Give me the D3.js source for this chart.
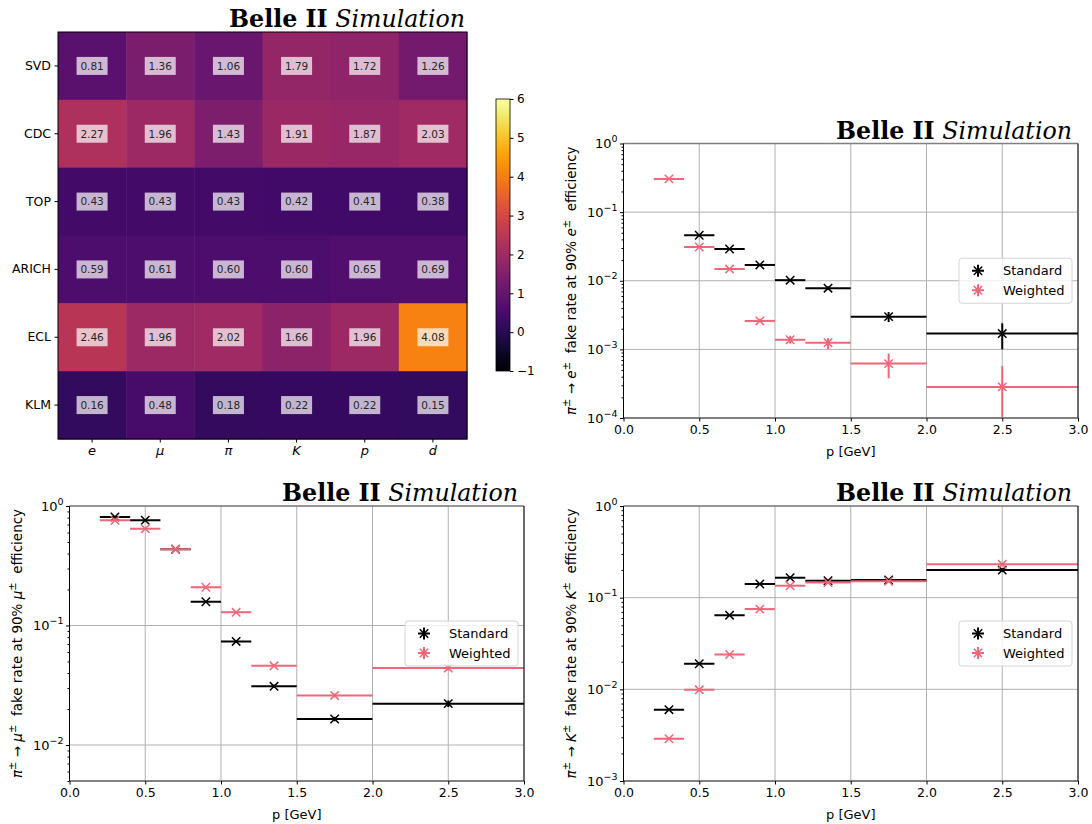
<!DOCTYPE html>
<html>
<head>
<meta charset="utf-8">
<script src="https://cdn.jsdelivr.net/npm/d3@7"></script>
<style>
  body { margin: 0; background: #fff; }
  svg { display: block; font-family: "DejaVu Sans", sans-serif; }
  text { white-space: pre; }
</style>
</head>
<body>
<svg id="fig" width="1092" height="824"></svg>
<script>
// ---- heatmap data ----
const heat_rows = ['SVD', 'CDC', 'TOP', 'ARICH', 'ECL', 'KLM'];
const heat_cols = ['e', 'μ', 'π', 'K', 'p', 'd'];
const heat_values = [
    [0.81, 1.36, 1.06, 1.79, 1.72, 1.26],
    [2.27, 1.96, 1.43, 1.91, 1.87, 2.03],
    [0.43, 0.43, 0.43, 0.42, 0.41, 0.38],
    [0.59, 0.61, 0.60, 0.60, 0.65, 0.69],
    [2.46, 1.96, 2.02, 1.66, 1.96, 4.08],
    [0.16, 0.48, 0.18, 0.22, 0.22, 0.15]
];
const colorbar_ticks = [-1, 0, 1, 2, 3, 4, 5, 6];

// ---- momentum bins ----
const bin_lo = [0.2, 0.4, 0.6, 0.8, 1.0, 1.2, 1.5, 2.0];
const bin_hi = [0.4, 0.6, 0.8, 1.0, 1.2, 1.5, 2.0, 3.0];
const bin_center = [0.3, 0.5, 0.7, 0.9, 1.1, 1.35, 1.75, 2.5];
const x_ticks = [0, 0.5, 1.0, 1.5, 2.0, 2.5, 3.0];

// pi -> e
const e_standard    = [null, 0.046, 0.029, 0.017, 0.0102, 0.0078, 0.0030, 0.0017];
const e_standard_lo = [null, 0.044, 0.028, 0.0164, 0.0098, 0.0073, 0.0025, 0.0010];
const e_standard_hi = [null, 0.048, 0.030, 0.0176, 0.0106, 0.0083, 0.0035, 0.0024];
const e_weighted    = [0.305, 0.031, 0.0148, 0.0026, 0.00138, 0.00125, 0.00062, 0.000284];
const e_weighted_lo = [0.300, 0.030, 0.0143, 0.0025, 0.00121, 0.00100, 0.00038, 0.00001];
const e_weighted_hi = [0.310, 0.032, 0.0153, 0.0028, 0.00158, 0.00146, 0.00087, 0.00057];

// pi -> mu
const mu_standard    = [0.81, 0.76, 0.435, 0.158, 0.0736, 0.031, 0.0165, 0.0222];
const mu_standard_lo = [0.80, 0.75, 0.430, 0.155, 0.0720, 0.030, 0.0158, 0.0208];
const mu_standard_hi = [0.82, 0.77, 0.440, 0.161, 0.0752, 0.032, 0.0172, 0.0236];
const mu_weighted    = [0.76, 0.645, 0.435, 0.209, 0.129, 0.046, 0.026, 0.044];
const mu_weighted_lo = [0.75, 0.635, 0.430, 0.205, 0.126, 0.0448, 0.0250, 0.0420];
const mu_weighted_hi = [0.77, 0.655, 0.440, 0.213, 0.132, 0.0472, 0.0270, 0.0460];

// pi -> K
const k_standard    = [0.0060, 0.019, 0.0644, 0.141, 0.165, 0.153, 0.156, 0.200];
const k_standard_lo = [0.0058, 0.0185, 0.063, 0.138, 0.160, 0.149, 0.151, 0.190];
const k_standard_hi = [0.0062, 0.0195, 0.066, 0.144, 0.170, 0.157, 0.161, 0.210];
const k_weighted    = [0.00289, 0.00987, 0.024, 0.075, 0.135, 0.146, 0.151, 0.231];
const k_weighted_lo = [0.00280, 0.0096, 0.0235, 0.073, 0.131, 0.142, 0.146, 0.222];
const k_weighted_hi = [0.00298, 0.0101, 0.0245, 0.077, 0.139, 0.150, 0.156, 0.240];

const col_standard = '#000000';
const col_weighted = '#ee6677';

const svg = d3.select('#fig');

function belle_title(right, baseline){
    let t = svg.append('text')
        .attr('x', right).attr('y', baseline)
        .attr('text-anchor', 'end')
        .style('font-family', '"DejaVu Serif", serif')
        .style('font-size', '20px')
        .attr('fill', '#000');
    t.append('tspan').attr('font-weight', 'bold').text('Belle II');
    t.append('tspan').attr('font-style', 'italic').text(' Simulation');
    let len = t.node().getComputedTextLength();
    t.style('font-size', (20 * 236 / len) + 'px');
}

// ---------------- heatmap ----------------
function heatmap(){
    let hx = d3.scaleBand().domain(heat_cols).range([58, 467]);
    let hy = d3.scaleBand().domain(heat_rows).range([32, 439]);
    let cscale = d3.scaleSequential(d3.interpolateInferno).domain([-1, 6]);

    let cells = [];
    heat_values.forEach((row, i) => row.forEach((v, j) => cells.push({r: heat_rows[i], c: heat_cols[j], v: v})));

    let g = svg.append('g');
    g.selectAll('rect.cell').data(cells).enter().append('rect')
        .attr('class', 'cell')
        .attr('x', d => hx(d.c)).attr('y', d => hy(d.r))
        .attr('width', hx.bandwidth() + 0.5).attr('height', hy.bandwidth() + 0.5)
        .attr('fill', d => cscale(d.v));

    let lab = g.selectAll('g.lab').data(cells).enter().append('g')
        .attr('class', 'lab')
        .attr('transform', d => `translate(${hx(d.c) + hx.bandwidth() / 2},${hy(d.r) + hy.bandwidth() / 2})`);
    lab.append('rect')
        .attr('x', -15.5).attr('y', -9).attr('width', 31).attr('height', 18)
        .attr('fill', '#fff').attr('fill-opacity', 0.7);
    lab.append('text')
        .attr('text-anchor', 'middle').attr('dy', '0.36em')
        .style('font-size', '10.5px').attr('fill', '#262626')
        .text(d => d.v.toFixed(2));

    g.append('rect').attr('x', 58).attr('y', 32).attr('width', 409).attr('height', 407)
        .attr('fill', 'none').attr('stroke', '#000').attr('stroke-width', 1);

    // row labels
    let ya = g.append('g').attr('transform', 'translate(58,0)')
        .call(d3.axisLeft(hy).tickSize(3.5).tickPadding(3.5));
    ya.select('.domain').remove();
    ya.selectAll('text').style('font-size', '12.5px').style('font-family', '"DejaVu Sans", sans-serif').attr('fill', '#000');

    let xa = g.append('g').attr('transform', 'translate(0,439)')
        .call(d3.axisBottom(hx).tickSize(3.5).tickPadding(3.5));
    xa.select('.domain').remove();
    xa.selectAll('text').style('font-size', '13px').style('font-style', 'italic')
        .style('font-family', '"DejaVu Sans", sans-serif').attr('fill', '#000');

    // colorbar
    let cy = d3.scaleLinear().domain([-1, 6]).range([371, 99]);
    let grad = svg.append('defs').append('linearGradient')
        .attr('id', 'cbar').attr('x1', 0).attr('y1', 1).attr('x2', 0).attr('y2', 0);
    d3.range(0, 1.0001, 0.05).forEach(t => {
        grad.append('stop').attr('offset', t).attr('stop-color', d3.interpolateInferno(t));
    });
    g.append('rect').attr('x', 496).attr('y', 99).attr('width', 14).attr('height', 272)
        .attr('fill', 'url(#cbar)').attr('stroke', '#000').attr('stroke-width', 0.8);
    let ca = g.append('g').attr('transform', 'translate(510,0)')
        .call(d3.axisRight(cy).tickValues(colorbar_ticks).tickSize(3.5).tickPadding(3.5)
            .tickFormat(d => d < 0 ? '−' + Math.abs(d) : '' + d));
    ca.select('.domain').remove();
    ca.selectAll('text').style('font-size', '12px').style('font-family', '"DejaVu Sans", sans-serif').attr('fill', '#000');

    belle_title(465, 27);
}

// ---------------- fake rate plots ----------------
function fake_rate_plot(opt){
    let x = d3.scaleLinear().domain([0, 3]).range([opt.left, opt.right]);
    let y = d3.scaleLog().domain(opt.ydomain).range([opt.bottom, opt.top]);
    let g = svg.append('g');
    let clip_id = 'clip_' + opt.name;

    g.append('clipPath').attr('id', clip_id).append('rect')
        .attr('x', opt.left).attr('y', opt.top)
        .attr('width', opt.right - opt.left).attr('height', opt.bottom - opt.top);

    // grid
    let grid = g.append('g').attr('stroke', '#b0b0b0').attr('stroke-width', 1);
    grid.selectAll('line.gx').data(x_ticks).enter().append('line')
        .attr('x1', d => x(d)).attr('x2', d => x(d)).attr('y1', opt.top).attr('y2', opt.bottom);
    grid.selectAll('line.gy').data(opt.yticks).enter().append('line')
        .attr('y1', d => y(d)).attr('y2', d => y(d)).attr('x1', opt.left).attr('x2', opt.right);

    // series
    let plot = g.append('g').attr('clip-path', `url(#${clip_id})`);
    opt.series.forEach(s => {
        let pts = [];
        s.values.forEach((v, i) => {
            if (v === null) return;
            pts.push({lo: bin_lo[i], hi: bin_hi[i], c: bin_center[i], v: v, elo: s.lo[i], ehi: s.hi[i]});
        });
        let sg = plot.append('g').attr('stroke', s.color).attr('fill', 'none');
        sg.selectAll('line.h').data(pts).enter().append('line')
            .attr('stroke-width', 2)
            .attr('x1', d => x(d.lo)).attr('x2', d => x(d.hi))
            .attr('y1', d => y(d.v)).attr('y2', d => y(d.v));
        sg.selectAll('line.v').data(pts).enter().append('line')
            .attr('stroke-width', 2)
            .attr('x1', d => x(d.c)).attr('x2', d => x(d.c))
            .attr('y1', d => y(d.elo)).attr('y2', d => y(d.ehi));
        sg.selectAll('path.m').data(pts).enter().append('path')
            .attr('stroke-width', 1.5)
            .attr('d', d => {
                let cx = x(d.c), cy = y(d.v), r = 4.2;
                return `M${cx - r},${cy - r}L${cx + r},${cy + r}M${cx - r},${cy + r}L${cx + r},${cy - r}`;
            });
    });

    // spines
    g.append('line').attr('x1', opt.left).attr('x2', opt.right).attr('y1', opt.top).attr('y2', opt.top)
        .attr('stroke', '#808080').attr('stroke-width', 1.5);
    g.append('line').attr('x1', opt.left).attr('x2', opt.right).attr('y1', opt.bottom).attr('y2', opt.bottom)
        .attr('stroke', '#808080').attr('stroke-width', 2);
    g.append('line').attr('x1', opt.left).attr('x2', opt.left).attr('y1', opt.top).attr('y2', opt.bottom)
        .attr('stroke', '#000').attr('stroke-width', 1);
    g.append('line').attr('x1', opt.right).attr('x2', opt.right).attr('y1', opt.top).attr('y2', opt.bottom)
        .attr('stroke', '#000').attr('stroke-width', 1);

    // x axis
    let xa = g.append('g').attr('transform', `translate(0,${opt.bottom})`)
        .call(d3.axisBottom(x).tickValues(x_ticks).tickFormat(d3.format('.1f'))
            .tickSize(3.5).tickPadding(4));
    xa.select('.domain').remove();
    xa.selectAll('text').style('font-size', '12.5px').style('font-family', '"DejaVu Sans", sans-serif').attr('fill', '#000');

    // y axis: major and minor ticks on log scale
    let minor = [];
    let d0 = Math.floor(Math.log10(opt.ydomain[0]));
    for (let d = d0; d < 0; d++){
        for (let k = 2; k <= 9; k++){
            let v = k * Math.pow(10, d);
            if (v >= opt.ydomain[0] && v <= opt.ydomain[1]) minor.push(v);
        }
    }
    let ym = g.append('g').attr('transform', `translate(${opt.left},0)`)
        .call(d3.axisLeft(y).tickValues(minor).tickSize(2).tickFormat(''));
    ym.select('.domain').remove();
    let ya = g.append('g').attr('transform', `translate(${opt.left},0)`)
        .call(d3.axisLeft(y).tickValues(opt.yticks).tickSize(3.5).tickFormat(''));
    ya.select('.domain').remove();

    opt.yticks.forEach(v => {
        let p = Math.round(Math.log10(v));
        let t = g.append('text')
            .attr('x', opt.left - 6).attr('y', y(v) + 4.5)
            .attr('text-anchor', 'end')
            .style('font-size', '13px').attr('fill', '#000');
        t.append('tspan').text('10');
        t.append('tspan').attr('dy', -6).style('font-size', '9.5px').text(p < 0 ? '−' + Math.abs(p) : '' + p);
    });

    // x label
    g.append('text').attr('x', (opt.left + opt.right) / 2).attr('y', opt.bottom + 38)
        .attr('text-anchor', 'middle').style('font-size', '13px').attr('fill', '#000')
        .text('p [GeV]');

    // y label
    let yl = g.append('text')
        .attr('transform', `translate(${opt.left - 48},${(opt.top + opt.bottom) / 2}) rotate(-90)`)
        .attr('text-anchor', 'middle').style('font-size', '13.5px').attr('fill', '#000');
    let parts = [
        {t: 'π', it: true}, {t: '±', sup: true}, {t: ' → '},
        {t: opt.particle, it: true}, {t: '±', sup: true}, {t: '  fake rate at 90% '},
        {t: opt.particle, it: true}, {t: '±', sup: true}, {t: '  efficiency'}
    ];
    let shifted = false;
    parts.forEach(pt => {
        let ts = yl.append('tspan').text(pt.t);
        if (pt.it) ts.style('font-style', 'italic');
        if (pt.sup){
            ts.attr('dy', -5.5).style('font-size', '10px');
            shifted = true;
        } else if (shifted){
            ts.attr('dy', 5.5);
            shifted = false;
        }
    });

    // legend
    let lw = 113, lh = 45;
    let lx = opt.right - 6 - lw, ly = (opt.top + opt.bottom) / 2 - lh / 2;
    let lg = g.append('g').attr('transform', `translate(${lx},${ly})`);
    lg.append('rect').attr('width', lw).attr('height', lh).attr('rx', 3)
        .attr('fill', '#fff').attr('fill-opacity', 0.8)
        .attr('stroke', '#d5d5d5').attr('stroke-width', 1);
    opt.series.forEach((s, i) => {
        let cy = 12.5 + i * 19.5, cx = 19;
        let e = lg.append('g').attr('stroke', s.color).attr('fill', 'none');
        e.append('line').attr('x1', cx - 6).attr('x2', cx + 6).attr('y1', cy).attr('y2', cy).attr('stroke-width', 2);
        e.append('line').attr('x1', cx).attr('x2', cx).attr('y1', cy - 6).attr('y2', cy + 6).attr('stroke-width', 2);
        e.append('path').attr('stroke-width', 1.5)
            .attr('d', `M${cx - 4.2},${cy - 4.2}L${cx + 4.2},${cy + 4.2}M${cx - 4.2},${cy + 4.2}L${cx + 4.2},${cy - 4.2}`);
        lg.append('text').attr('x', 44).attr('y', cy + 4.7)
            .style('font-size', '13px').attr('fill', '#000').text(s.label);
    });

    belle_title(opt.right - 6, opt.top - 5);
}

heatmap();

fake_rate_plot({
    name: 'e', particle: 'e',
    left: 623.5, right: 1078, top: 143.5, bottom: 418,
    ydomain: [1e-4, 1], yticks: [1e-4, 1e-3, 1e-2, 1e-1, 1],
    series: [
        {label: 'Standard', color: col_standard, values: e_standard, lo: e_standard_lo, hi: e_standard_hi},
        {label: 'Weighted', color: col_weighted, values: e_weighted, lo: e_weighted_lo, hi: e_weighted_hi}
    ]
});

fake_rate_plot({
    name: 'mu', particle: 'μ',
    left: 69.5, right: 524, top: 506, bottom: 781,
    ydomain: [0.005, 1], yticks: [1e-2, 1e-1, 1],
    series: [
        {label: 'Standard', color: col_standard, values: mu_standard, lo: mu_standard_lo, hi: mu_standard_hi},
        {label: 'Weighted', color: col_weighted, values: mu_weighted, lo: mu_weighted_lo, hi: mu_weighted_hi}
    ]
});

fake_rate_plot({
    name: 'k', particle: 'K',
    left: 623.5, right: 1078, top: 506, bottom: 781,
    ydomain: [1e-3, 1], yticks: [1e-3, 1e-2, 1e-1, 1],
    series: [
        {label: 'Standard', color: col_standard, values: k_standard, lo: k_standard_lo, hi: k_standard_hi},
        {label: 'Weighted', color: col_weighted, values: k_weighted, lo: k_weighted_lo, hi: k_weighted_hi}
    ]
});
</script>
</body>
</html>
